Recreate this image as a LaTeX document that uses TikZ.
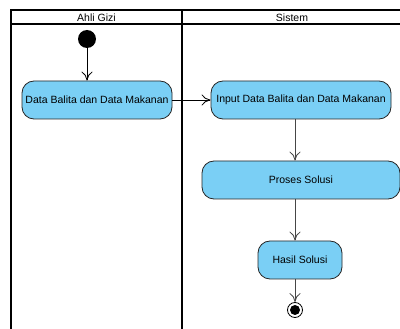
\documentclass[tikz,border=0pt]{standalone}
\usepackage{fontspec}
\setmainfont{Liberation Sans}
\usetikzlibrary{arrows.meta,calc}
\definecolor{actfill}{RGB}{122,207,245}
\definecolor{flowgray}{RGB}{70,70,70}
\tikzset{
  lane/.style={line width=2pt,draw=black},
  action/.style={draw=black!85,line width=0.8pt,fill=actfill,rounded corners=12pt,
    minimum height=38pt,inner sep=1pt,font=\fontsize{10.5}{12}\selectfont},
  flow/.style={line width=0.8pt,-{To[length=9pt,width=11pt,line width=0.8pt]}},
  lanetitle/.style={font=\fontsize{10.5}{12}\selectfont,inner sep=0pt}
}
\begin{document}
\begin{tikzpicture}[x=1pt,y=-1pt]
  \useasboundingbox (0,0) rectangle (400,329);
  \fill[white] (0,0) rectangle (400,329);
  % swimlane frame
  \begin{scope}
    \clip (0,0) rectangle (400,329);
    \draw[lane] (11,340) -- (11,10) -- (410,10);
    \draw[lane] (11,24) -- (410,24);
    \draw[lane] (182,10) -- (182,340);
  \end{scope}
  \node[lanetitle] (laneA) at (96.5,17.5) {Ahli Gizi};
  \node[lanetitle] (laneB) at (292,17.5) {Sistem};
  % start and end
  \node[circle,fill=black,minimum size=18pt,inner sep=0pt] (start) at (87,39) {};
  \node[circle,draw=black,line width=0.8pt,fill=white,minimum size=15pt,inner sep=0pt] (fin) at (295,310) {};
  \fill[black] (fin.center) circle (5pt);
  % actions
  \node[action,minimum width=150pt] (a1) at (97,100) {Data Balita dan Data Makanan};
  \node[action,minimum width=180pt] (a2) at (301,100) {Input Data Balita dan Data Makanan};
  \node[action,minimum width=198pt] (a3) at (301,180) {Proses Solusi};
  \node[action,minimum width=84pt] (a4) at (300,260) {Hasil Solusi};
  % flows
  \draw[flow] (start) -- (a1.north -| start);
  \draw[flow] (a1) -- (a2);
  \draw[flow,draw=flowgray] (a2.south -| fin) -- (a3.north -| fin);
  \draw[flow,draw=flowgray] (a3.south -| fin) -- (a4.north -| fin);
  \draw[flow,draw=flowgray] (a4.south -| fin) -- (fin);
\end{tikzpicture}
\end{document}
